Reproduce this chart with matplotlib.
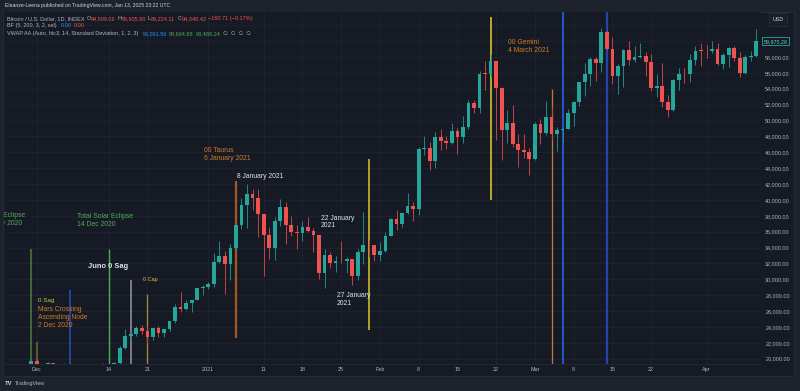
import matplotlib
matplotlib.use('Agg')
import matplotlib.pyplot as plt
import matplotlib.dates as mdates
import numpy as np
import pandas as pd
from matplotlib.patches import Rectangle

plt.rcParams['font.family'] = ['Liberation Sans', 'DejaVu Sans']

# ---------------- data ----------------
dates = pd.date_range('2020-11-29', '2021-04-10', freq='D')
opens = [17720, 18180,
         19700, 18770, 19210, 19430, 18650, 19150, 19360, 19170, 18320, 18550, 18250, 18040, 18800, 19170, 19270,
         19440, 21350, 22810, 23120, 23840, 23460, 22720, 23820, 23240, 23720, 24690, 26490, 26270, 27050, 27360, 28870,
         28980, 29370, 32130, 32950, 31970, 33990, 36820, 39370, 40800, 40250, 38240, 35550, 33930, 37320, 39150, 36830,
         36020, 35800, 36630, 36030, 35530, 30830, 33000, 32080, 32270, 32260, 32500, 30400, 33400, 34300, 34270,
         33100, 33540, 35500, 37650, 36950, 38300, 39250, 38900, 46450, 46500, 44850, 47950, 47400, 47200, 48650, 47950,
         49150, 52150, 51600, 55900, 55850, 57450, 54100, 48800, 49700, 47000, 46250, 46000,
         45100, 49600, 48400, 50400, 48350, 48800, 48900, 50950, 52350, 54850, 55900, 57800, 57200, 61200, 59000, 55600,
         56900, 58900, 57650, 58050, 58100, 57400, 54100, 54350, 52300, 51300, 55100, 55900, 55800, 57600, 58800,
         58780, 58730, 59000, 57100, 58200, 59100, 57900, 56000, 58000, 58100]
highs = [18350, 19850,
         19920, 19310, 19570, 19510, 19170, 19410, 19420, 19290, 18630, 18560, 18270, 18950, 19400, 19350, 19560,
         21560, 23770, 23270, 24170, 24280, 24100, 23820, 24110, 23770, 24780, 26880, 28420, 27450, 27380, 28950, 29300,
         29600, 33300, 34780, 33600, 34420, 36930, 40180, 41950, 41350, 41350, 38260, 36600, 37850, 40100, 39700, 37950,
         36850, 37400, 37850, 36400, 35550, 33830, 33500, 32950, 34880, 32800, 32560, 33800, 38500, 34900, 34300,
         34700, 35950, 37700, 38700, 38300, 40900, 39700, 46600, 48000, 47300, 48600, 48900, 48100, 49700, 49000, 50600,
         52600, 52550, 56200, 57500, 58350, 57550, 54200, 51300, 52000, 48300, 48300, 46500,
         49800, 50200, 52500, 51700, 49200, 49100, 51400, 52400, 54900, 57300, 58000, 58000, 61700, 61400, 60500, 57100,
         59000, 60000, 59400, 59800, 58600, 58400, 55800, 57200, 53200, 55200, 56600, 56600, 58400, 59400, 59800,
         59500, 60000, 59800, 58500, 59200, 59400, 58600, 58200, 58800, 61500]
lows = [17550, 18180,
        18330, 18500, 18920, 18570, 18500, 18900, 18900, 18200, 17650, 17910, 17570, 18020, 18730, 19000, 19050,
        19280, 21260, 22400, 22800, 23100, 22000, 22360, 22700, 22720, 23450, 24520, 25850, 26100, 25880, 27360, 28000,
        28800, 29000, 32020, 28130, 29900, 33400, 36300, 36500, 38700, 35300, 30420, 32500, 32380, 36700, 34400, 35400,
        33850, 34800, 35900, 33400, 30100, 28850, 31400, 30900, 32100, 30850, 29250, 29900, 31950, 32850, 32300,
        32300, 33450, 35400, 36200, 36600, 38200, 37400, 38100, 45700, 43800, 44000, 46300, 46400, 47100, 45800, 47200,
        48950, 50900, 50900, 53900, 55500, 47600, 45000, 47200, 46700, 44200, 45300, 43100,
        45000, 47100, 48200, 47600, 46200, 47200, 48900, 49300, 51850, 53100, 54300, 55000, 56100, 58900, 54600, 53300,
        54200, 57000, 57400, 57900, 55600, 53700, 53000, 51700, 50400, 51200, 53900, 54700, 54900, 57000, 56900,
        57900, 58500, 57000, 56500, 56800, 57500, 55500, 55900, 57500, 58000]
closes = [18180, 19700,
          18770, 19210, 19430, 18650, 19150, 19360, 19170, 18320, 18550, 18250, 18040, 18800, 19170, 19270, 19440,
          21350, 22810, 23120, 23840, 23460, 22720, 23820, 23240, 23720, 24690, 26490, 26270, 27050, 27360, 28870, 28980,
          29370, 32130, 32950, 31970, 33990, 36820, 39370, 40800, 40250, 38240, 35550, 33930, 37320, 39150, 36830, 36020,
          35800, 36630, 36030, 35530, 30830, 33000, 32080, 32270, 32260, 32500, 30400, 33400, 34300, 34270, 33100,
          33540, 35500, 37650, 36950, 38300, 39250, 38900, 46450, 46500, 44850, 47950, 47400, 47200, 48650, 47950, 49150,
          52150, 51600, 55900, 55850, 57450, 54100, 48800, 49700, 47000, 46250, 46000, 45100,
          49600, 48400, 50400, 48350, 48800, 48900, 50950, 52350, 54850, 55900, 57800, 57200, 61200, 59000, 55600, 56900,
          58900, 57650, 58050, 58100, 57400, 54100, 54350, 52300, 51300, 55100, 55900, 55800, 57600, 58800, 58780,
          58730, 59000, 57100, 58200, 59100, 57900, 56000, 58000, 58100, 59975]

price_ticks = list(range(20000, 62001, 2000))
date_ticks = ['2020-12-01', '2020-12-14', '2020-12-21', '2021-01-01', '2021-01-11', '2021-01-18', '2021-01-25',
              '2021-02-01', '2021-02-08', '2021-02-15', '2021-02-22', '2021-03-01', '2021-03-08', '2021-03-15',
              '2021-03-22', '2021-04-01']
date_tick_labels = ['Dec', '14', '21', '2021', '11', '18', '25', 'Feb', '8', '15', '22', 'Mar', '8', '15', '22', 'Apr']

# event lines: (date, top price, bottom price or None, colour, width)
event_dates = ['2020-11-30', '2020-12-01', '2020-12-07', '2020-12-14', '2020-12-18', '2020-12-21',
               '2021-01-06', '2021-01-30', '2021-02-21', '2021-03-04', '2021-03-06', '2021-03-14']
event_tops = [33800, 22100, 28650, 33800, 29950, 28150, 42380, 45150, 63000, 53960, None, None]
event_bottoms = [None, None, None, None, None, None, 22600, 23620, 40000, None, None, None]
event_colors = ['#4f7f3e', '#7a6a2c', '#2a4fc0', '#4caf50', '#9598a1', '#9a8a3e',
                '#a8581e', '#d8c82c', '#e2d22a', '#c07a35', '#2962ff', '#2444ad']
event_widths = [1.1, 1.1, 1.1, 1.0, 1.1, 1.0, 1.6, 1.1, 1.1, 0.9, 1.1, 1.6]

# annotations: (text, anchor date, price, colour, size, weight)
notes = [
    ('Lunar Eclipse\n30 Nov 2020', '2020-11-21 12:00', 37530, '#4caf50', 4.9, 'normal'),
    ('Total Solar Eclipse\n14 Dec 2020', '2020-12-08 07:00', 37400, '#4caf50', 4.9, 'normal'),
    ('Juno 0 Sag', '2020-12-10 06:30', 31590, '#e0e3eb', 5.4, 'bold'),
    ('0 Cap', '2020-12-20 06:00', 29950, '#d4c53a', 4.0, 'normal'),
    ('0 Sag', '2020-12-01 05:30', 27390, '#d4c53a', 4.5, 'normal'),
    ('Mars Crossing\nAscending Node\n2 Dec 2020', '2020-12-01 05:30', 25190, '#d07a22', 4.9, 'normal'),
    ('00 Taurus\n6 January 2021', '2020-12-31 05:00', 45720, '#d07a22', 4.9, 'normal'),
    ('8 January 2021', '2021-01-06 05:00', 43010, '#e0e3eb', 4.9, 'normal'),
    ('22 January\n2021', '2021-01-21 07:00', 37216, '#e0e3eb', 4.9, 'normal'),
    ('27 January\n2021', '2021-01-24 05:00', 27494, '#e0e3eb', 4.9, 'normal'),
    ('00 Gemini\n4 March 2021', '2021-02-24 05:00', 59282, '#d07a22', 4.9, 'normal'),
]

last_price = 59975.28

# ---------------- figure ----------------
W, H = 800, 391
OUTER = '#1e222d'
PANE = '#161a25'
TXT = '#b2b5be'
UP, DOWN = '#26a69a', '#ef5350'

fig = plt.figure(figsize=(W / 100, H / 100), dpi=100, facecolor=OUTER)


def fx(px):
    return px / W


def fy(py):
    return 1 - py / H


# chart background (pane + axes strips), drawn beneath the axes
fig.patches.append(Rectangle((fx(3), fy(376)), fx(794) - fx(3), fy(12) - fy(376),
                             transform=fig.transFigure, facecolor=PANE, edgecolor='#2a2e39', lw=0.6, zorder=-5))

ax = fig.add_axes([fx(4), fy(364), fx(760) - fx(4), fy(12) - fy(364)])
ax.set_zorder(1)
ax.set_facecolor(PANE)
for s in ax.spines.values():
    s.set_visible(False)
ax.spines['bottom'].set_visible(True)
ax.spines['bottom'].set_color('#2a2e39')
ax.spines['bottom'].set_linewidth(0.5)

x0 = mdates.date2num(pd.Timestamp('2020-12-01'))
ax.set_xlim(x0 - 5.9, x0 + 130.66)
ax.set_ylim(19333, 63665)

xs = mdates.date2num(dates)
o = np.array(opens, float)
h = np.array(highs, float)
l = np.array(lows, float)
c = np.array(closes, float)
up = c >= o
cols = np.where(up, UP, DOWN)
wick_cols = np.where(up, '#1f8a80', '#c44447')

# grid
for p in price_ticks:
    ax.axhline(p, color='#1f2330', lw=0.6, zorder=0.5)
for d in date_ticks:
    ax.axvline(mdates.date2num(pd.Timestamp(d)), color='#1f2330', lw=0.6, zorder=0.5)

# event lines
ymin, ymax = ax.get_ylim()
for d, top, bot, col, lw in zip(event_dates, event_tops, event_bottoms, event_colors, event_widths):
    xd = mdates.date2num(pd.Timestamp(d))
    ax.vlines(xd, bot if bot is not None else ymin, top if top is not None else ymax,
              colors=col, lw=lw, zorder=1.5)

# candles
ax.vlines(xs, l, h, colors=wick_cols, lw=0.7, zorder=2)
bottoms = np.minimum(o, c)
heights = np.maximum(np.abs(c - o), 70)
ax.bar(xs, heights, bottom=bottoms, width=0.68, color=cols, edgecolor='none', zorder=3)

# annotations
for txt, d, p, col, size, wt in notes:
    ax.text(mdates.date2num(pd.Timestamp(d)), p, txt, color=col, fontsize=size, fontweight=wt,
            ha='left', va='center', linespacing=1.15, clip_on=True, zorder=4)

# axes ticks
ax.yaxis.tick_right()
ax.set_yticks(price_ticks)
ax.set_yticklabels([f'{p:,.2f}' if p <= 58000 else '' for p in price_ticks])
ax.tick_params(axis='y', length=0, pad=3.8, labelsize=3.9, labelcolor=TXT)
ax.set_xticks([mdates.date2num(pd.Timestamp(d)) for d in date_ticks])
ax.set_xticklabels(date_tick_labels)
ax.tick_params(axis='x', length=0, pad=2.4, labelsize=3.9, labelcolor=TXT)

# last price label
ax.annotate(f'{last_price:,.2f}', xy=(1.0, last_price), xycoords=('axes fraction', 'data'),
            xytext=(2.5, 0), textcoords='offset points', ha='left', va='center',
            fontsize=3.9, color='#5fd1c5', annotation_clip=False,
            bbox=dict(boxstyle='square,pad=0.25', facecolor=PANE, edgecolor=UP, lw=0.6))

# USD box
fig.text(fx(778), fy(19.5), 'USD', ha='center', va='center', fontsize=3.9, color='#d1d4dc',
         bbox=dict(boxstyle='square,pad=0.7', facecolor='#1a1e29', edgecolor='#2a2e39', lw=0.6))

# header and legend
fig.text(fx(5), fy(5.5), 'Eleanze-Leena published on TradingView.com, Jan 13, 2025 23:22 UTC',
         fontsize=3.7, color='#d1d4dc', ha='left', va='center')

LEG = 3.95
legend_rows = [
    [('Bitcoin / U.S. Dollar, 1D, INDEX', TXT, 0), ('O', TXT, 1.5), ('94,509.06', DOWN, 0), ('H', TXT, 1.5),
     ('95,905.80', DOWN, 0), ('L', TXT, 1.5), ('89,224.11', DOWN, 0), ('C', TXT, 1.5),
     ('94,348.42', DOWN, 0), ('\u2212160.71 (\u22120.17%)', DOWN, 1.5)],
    [('BF (5, 200, 3, 2, sel)', TXT, 0), ('0.00', '#2196f3', 3.0), ('0.00', DOWN, 1.2)],
    [('VWAP AA (Auto, hlc3, 14, Standard Deviation, 1, 2, 3)', TXT, 0), ('96,091.56', '#2196f3', 3.0),
     ('98,694.88', '#4caf50', 1.5), ('93,488.24', '#4caf50', 1.5), ('\u2205  \u2205  \u2205  \u2205', TXT, 1.5)],
]
row_y = [18.3, 25.5, 33.3]
for row, yy in zip(legend_rows, row_y):
    prev = None
    for s, col, gap in row:
        if prev is None:
            prev = fig.text(fx(7), fy(yy), s, fontsize=LEG, color=col, ha='left', va='center')
        else:
            prev = ax.annotate(s, xy=(1, 0.5), xycoords=prev, xytext=(gap, 0), textcoords='offset points',
                               fontsize=LEG, color=col, ha='left', va='center', annotation_clip=False)

# footer logo
fig.text(fx(5), fy(383.5), 'TV', fontsize=4.2, fontweight='bold', color='#d1d4dc', ha='left', va='center')
fig.text(fx(14.5), fy(383.5), 'TradingView', fontsize=4.0, color='#b2b5be', ha='left', va='center')

fig.savefig('out.png', dpi=100, facecolor=OUTER)
